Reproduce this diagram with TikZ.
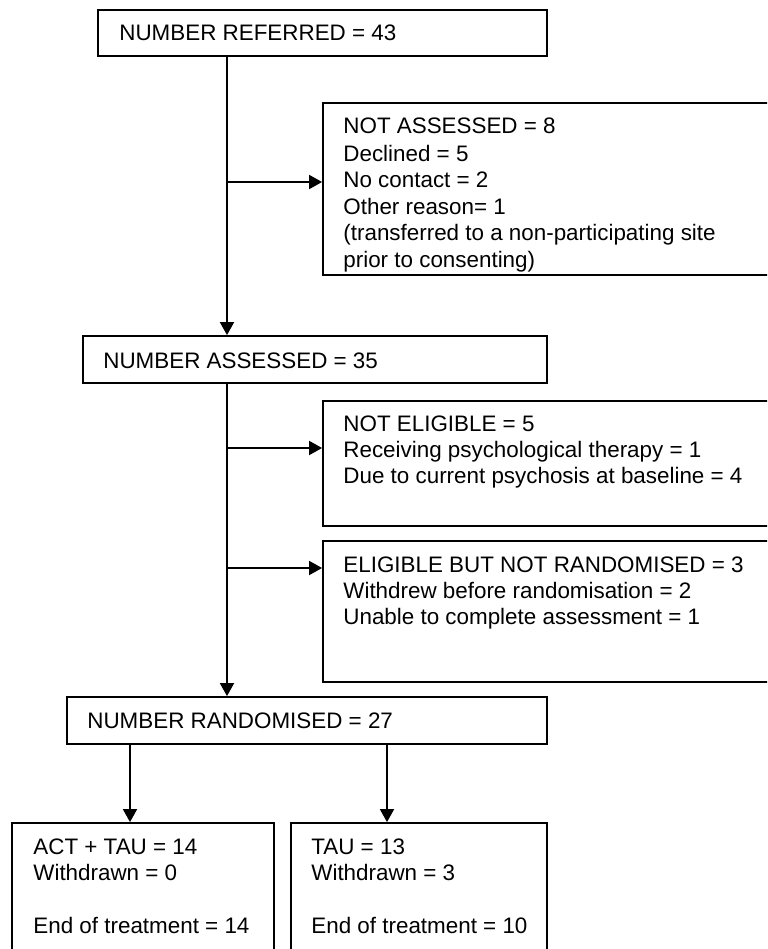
\documentclass[tikz,border=0pt]{standalone}
\usepackage{fontspec}
\setmainfont{Liberation Sans}
\usepackage{tikz}
\usetikzlibrary{positioning,fit,arrows.meta}
\tikzset{>={Triangle[length=6.5pt,width=7pt]}}
\tikzset{
  box/.style={draw,line width=0.9pt,inner sep=0pt},
  txt/.style={anchor=north west,inner sep=0pt,align=left,font=\fontsize{11.2}{13.2}\selectfont},
  arr/.style={->,line width=0.9pt}
}

\begin{document}
\begin{tikzpicture}[x=0.5pt,y=-0.5pt]
	\useasboundingbox (0,0) rectangle (767,949);
	\clip (0,0) rectangle (767,949);
	\def\sx{227} % main line
	\coordinate (spine) at (\sx,0);
	\coordinate (splitL) at (130,0);
	\coordinate (splitR) at (387,0);
	% boxes
	\node[box,fit={(98,10) (547,56)}] (ref) {};
	\node[box,fit={(323,103) (790,275)}] (notass) {};
	\node[box,fit={(83,336) (547,383)}] (ass) {};
	\node[box,fit={(323,401) (790,526)}] (notelig) {};
	\node[box,fit={(323,541) (790,682)}] (elig) {};
	\node[box,fit={(67,697) (547,744)}] (rand) {};
	\node[box,fit={(12,823) (274,970)}] (act) {};
	\node[box,fit={(291,823) (547,970)}] (tau) {};
	% texts
	\node[txt] (reft) at (119,24) {NUMBER REFERRED = 43};
	\node[txt] (notasst) at (343,117) {NOT ASSESSED = 8\\[1pt]
		Declined = 5\\No contact = 2\\Other reason= 1\\
		(transferred to a non-participating site\\prior to consenting)};
	\node[txt] (asst) at (103,352) {NUMBER ASSESSED = 35};
	\node[txt] (noteligt) at (343,415) {NOT ELIGIBLE = 5\\
		Receiving psychological therapy = 1\\Due to current psychosis at baseline = 4};
	\node[txt] (eligt) at (343,556) {ELIGIBLE BUT NOT RANDOMISED = 3\\
		Withdrew before randomisation = 2\\Unable to complete assessment = 1};
	\node[txt] (randt) at (87,712) {NUMBER RANDOMISED = 27};
	\node[txt] (actt) at (33,838) {ACT + TAU = 14\\Withdrawn = 0\\[13.2pt]End of treatment = 14};
	\node[txt] (taut) at (311,838) {TAU = 13\\Withdrawn = 3\\[13.2pt]End of treatment = 10};
	% connectors
	\draw[arr] (ref.south -| spine) -- (ass.north -| spine);
	\draw[arr] (ass.south -| spine) -- (rand.north -| spine);
	\coordinate (b1) at (\sx,182);
	\coordinate (b2) at (\sx,448);
	\coordinate (b3) at (\sx,568);
	\draw[arr] (b1) -- (b1 -| notass.west);
	\draw[arr] (b2) -- (b2 -| notelig.west);
	\draw[arr] (b3) -- (b3 -| elig.west);
	\draw[arr] (rand.south -| splitL) -- (act.north -| splitL);
	\draw[arr] (rand.south -| splitR) -- (tau.north -| splitR);
\end{tikzpicture}
\end{document}
